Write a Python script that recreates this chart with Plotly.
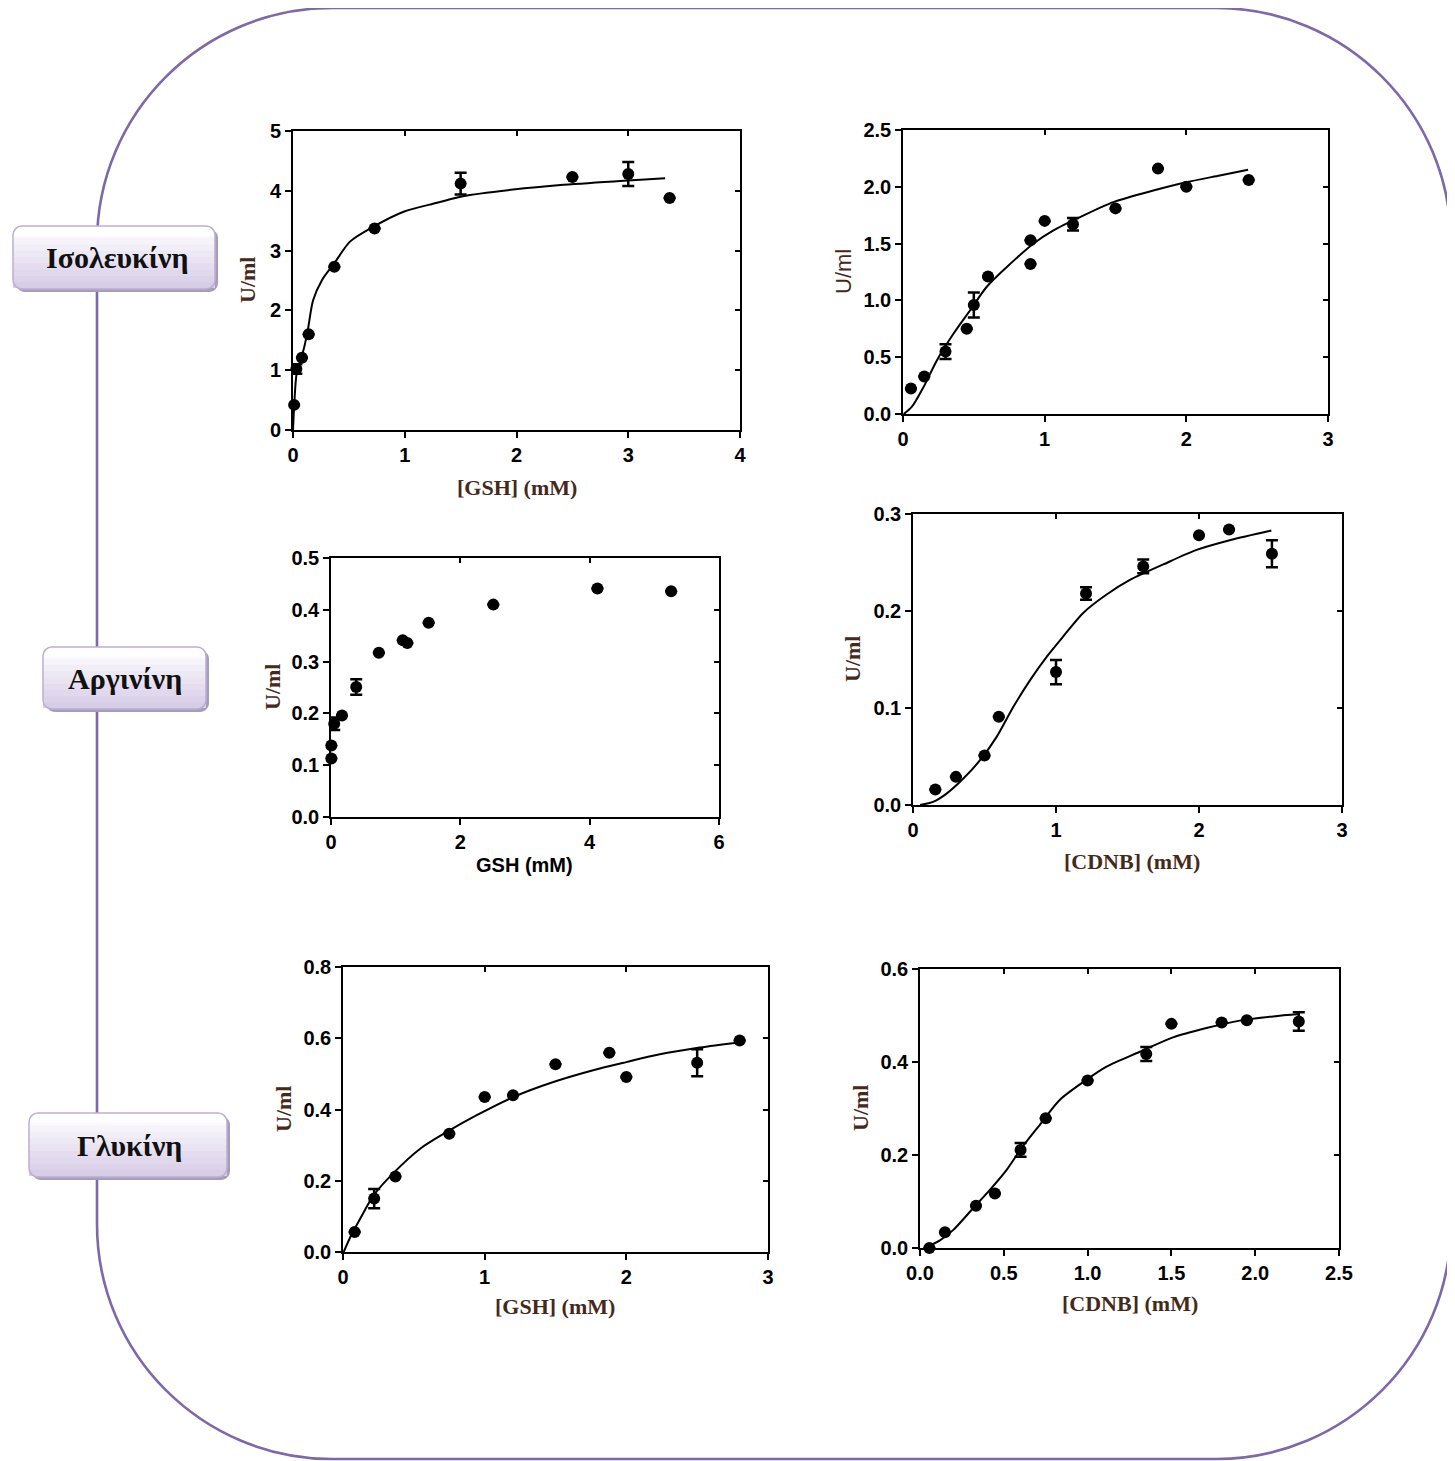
import plotly.graph_objects as go

W, H = 1455, 1461
OFF = 8  # page body margin of the html page

# ---------------- data ----------------
# Isoleucine, GSH
iso_gsh_x = [0.01, 0.03, 0.08, 0.14, 0.37, 0.73, 1.50, 2.50, 3.00, 3.37]
iso_gsh_y = [0.42, 1.02, 1.21, 1.60, 2.73, 3.37, 4.12, 4.23, 4.28, 3.88]
iso_gsh_err = [None, 0.08, None, None, None, None, 0.18, None, 0.20, None]
iso_gsh_fit_x = [0.0, 0.012, 0.033, 0.078, 0.128, 0.18, 0.26, 0.37, 0.51, 0.72, 0.99, 1.29, 1.52, 1.97, 2.42, 2.96, 3.33]
iso_gsh_fit_y = [0.0, 0.45, 0.95, 1.22, 1.62, 2.17, 2.51, 2.79, 3.15, 3.40, 3.65, 3.80, 3.91, 4.02, 4.10, 4.17, 4.21]

# Isoleucine, CDNB
iso_cdnb_x = [0.056, 0.15, 0.30, 0.45, 0.50, 0.60, 0.90, 0.90, 1.00, 1.20, 1.50, 1.80, 2.00, 2.44]
iso_cdnb_y = [0.225, 0.33, 0.55, 0.75, 0.96, 1.21, 1.53, 1.32, 1.70, 1.67, 1.81, 2.16, 2.00, 2.06]
iso_cdnb_err = [None, None, 0.065, None, 0.11, None, None, None, None, 0.055, None, None, None, None]
iso_cdnb_fit_x = [0.005, 0.063, 0.146, 0.24, 0.357, 0.474, 0.59, 0.733, 0.92, 1.062, 1.25, 1.485, 1.767, 2.0, 2.236, 2.436]
iso_cdnb_fit_y = [0.0, 0.064, 0.24, 0.474, 0.708, 0.913, 1.118, 1.294, 1.499, 1.616, 1.733, 1.865, 1.967, 2.04, 2.10, 2.15]

# Arginine, GSH
arg_gsh_x = [0.005, 0.005, 0.05, 0.17, 0.39, 0.74, 1.11, 1.18, 1.51, 2.51, 4.12, 5.26]
arg_gsh_y = [0.113, 0.138, 0.180, 0.196, 0.251, 0.317, 0.341, 0.336, 0.375, 0.410, 0.441, 0.436]
arg_gsh_err = [None, None, 0.012, None, 0.015, None, None, None, None, None, None, None]

# Arginine, CDNB
arg_cdnb_x = [0.156, 0.30, 0.50, 0.60, 1.00, 1.21, 1.61, 2.00, 2.21, 2.51]
arg_cdnb_y = [0.016, 0.029, 0.051, 0.091, 0.137, 0.218, 0.246, 0.278, 0.284, 0.259]
arg_cdnb_err = [None, None, None, None, 0.0125, 0.0065, 0.007, None, None, 0.014]
arg_cdnb_fit_x = [0.05, 0.144, 0.237, 0.354, 0.47, 0.586, 0.703, 0.82, 0.936, 1.052, 1.19, 1.354, 1.517, 1.75, 1.983, 2.215, 2.506]
arg_cdnb_fit_y = [0.0, 0.0034, 0.012, 0.0275, 0.0464, 0.0705, 0.1015, 0.129, 0.153, 0.174, 0.198, 0.217, 0.232, 0.248, 0.263, 0.273, 0.283]

# Glycine, GSH
gly_gsh_x = [0.082, 0.22, 0.37, 0.75, 1.00, 1.20, 1.50, 1.88, 2.00, 2.50, 2.80]
gly_gsh_y = [0.056, 0.150, 0.212, 0.332, 0.435, 0.440, 0.527, 0.559, 0.491, 0.531, 0.594]
gly_gsh_err = [None, 0.027, None, None, None, None, None, None, None, 0.038, None]
gly_gsh_fit_x = [0.005, 0.052, 0.122, 0.216, 0.357, 0.545, 0.733, 0.944, 1.203, 1.485, 1.766, 2.0, 2.236, 2.518, 2.80]
gly_gsh_fit_y = [0.0, 0.042, 0.094, 0.159, 0.222, 0.290, 0.337, 0.384, 0.435, 0.477, 0.510, 0.533, 0.555, 0.574, 0.589]

# Glycine, CDNB
gly_cdnb_x = [0.056, 0.149, 0.334, 0.447, 0.60, 0.75, 1.00, 1.35, 1.50, 1.80, 1.95, 2.26]
gly_cdnb_y = [0.0, 0.034, 0.091, 0.117, 0.211, 0.279, 0.360, 0.417, 0.482, 0.485, 0.490, 0.487]
gly_cdnb_err = [None, None, None, None, 0.015, None, None, 0.015, None, None, None, 0.02]
gly_cdnb_fit_x = [0.03, 0.119, 0.199, 0.318, 0.417, 0.517, 0.606, 0.715, 0.835, 0.994, 1.113, 1.312, 1.51, 1.709, 1.908, 2.107, 2.266]
gly_cdnb_fit_y = [0.0, 0.0165, 0.039, 0.086, 0.125, 0.168, 0.215, 0.265, 0.319, 0.362, 0.390, 0.422, 0.453, 0.473, 0.489, 0.498, 0.503]

amino_labels = ["Ισολευκίνη", "Αργινίνη", "Γλυκίνη"]
y_title = "U/ml"
x_titles = ["[GSH] (mM)", "", "GSH (mM)", "[CDNB] (mM)", "[GSH] (mM)", "[CDNB] (mM)"]

# ---------------- helpers ----------------
def PX(x):
    return (x - OFF) / W


def PY(y):
    return 1 - (y - OFF) / H


INK = "#000000"
TITLE_COL = "#45291a"
SANS = "Liberation Sans, Arial, sans-serif"
SERIF = "Liberation Serif, Times New Roman, serif"

panels = [
    dict(x=iso_gsh_x, y=iso_gsh_y, e=iso_gsh_err, fx=iso_gsh_fit_x, fy=iso_gsh_fit_y,
         box=(293, 740, 131, 430), xr=[0, 4], xd=1, yr=[0, 5], yd=1, xf="d", yf="d"),
    dict(x=iso_cdnb_x, y=iso_cdnb_y, e=iso_cdnb_err, fx=iso_cdnb_fit_x, fy=iso_cdnb_fit_y,
         box=(903, 1328, 130, 414), xr=[0, 3], xd=1, yr=[0, 2.5], yd=0.5, xf="d", yf=".1f"),
    dict(x=arg_gsh_x, y=arg_gsh_y, e=arg_gsh_err, fx=None, fy=None,
         box=(331, 719, 558, 817), xr=[0, 6], xd=2, yr=[0, 0.5], yd=0.1, xf="d", yf=".1f"),
    dict(x=arg_cdnb_x, y=arg_cdnb_y, e=arg_cdnb_err, fx=arg_cdnb_fit_x, fy=arg_cdnb_fit_y,
         box=(913, 1342, 514, 805), xr=[0, 3], xd=1, yr=[0, 0.3], yd=0.1, xf="d", yf=".1f"),
    dict(x=gly_gsh_x, y=gly_gsh_y, e=gly_gsh_err, fx=gly_gsh_fit_x, fy=gly_gsh_fit_y,
         box=(343, 768, 967, 1252), xr=[0, 3], xd=1, yr=[0, 0.8], yd=0.2, xf="d", yf=".1f"),
    dict(x=gly_cdnb_x, y=gly_cdnb_y, e=gly_cdnb_err, fx=gly_cdnb_fit_x, fy=gly_cdnb_fit_y,
         box=(920, 1339, 969, 1248), xr=[0, 2.5], xd=0.5, yr=[0, 0.6], yd=0.2, xf=".1f", yf=".1f"),
]

fig = go.Figure()
layout = {}
annotations = []
shapes = []

for i, p in enumerate(panels):
    n = i + 1
    m = i + 7
    xa, ya = f"x{n}", f"y{n}"
    xo, yo = f"x{m}", f"y{m}"
    l, r, t, b = p["box"]
    xdom = [PX(l), PX(r)]
    ydom = [PY(b), PY(t)]
    tickfont = dict(family=SANS, size=20, color=INK, weight="bold")
    common = dict(showgrid=False, zeroline=False, automargin=False, fixedrange=True, tick0=0)
    layout[f"xaxis{n}"] = dict(domain=xdom, anchor=ya, range=p["xr"], dtick=p["xd"],
                               tickformat=p["xf"], showline=True, linecolor=INK, linewidth=1.6, mirror=True,
                               ticks="outside", ticklen=6, tickwidth=1.6, tickcolor=INK,
                               tickfont=tickfont, **common)
    layout[f"yaxis{n}"] = dict(domain=ydom, anchor=xa, range=p["yr"], dtick=p["yd"],
                               tickformat=p["yf"], showline=True, linecolor=INK, linewidth=1.6, mirror=True,
                               ticks="outside", ticklen=6, tickwidth=1.6, tickcolor=INK,
                               tickfont=tickfont, **common)
    # mirrored inside ticks on top / right
    layout[f"xaxis{m}"] = dict(overlaying=xa, side="top", anchor=yo, range=p["xr"], dtick=p["xd"],
                               showline=False, ticks="inside", ticklen=5, tickwidth=1.6, tickcolor=INK,
                               showticklabels=False, **common)
    layout[f"yaxis{m}"] = dict(overlaying=ya, side="right", anchor=xo, range=p["yr"], dtick=p["yd"],
                               showline=False, ticks="inside", ticklen=5, tickwidth=1.6, tickcolor=INK,
                               showticklabels=False, **common)
    fig.add_trace(go.Scatter(x=[], y=[], xaxis=xo, yaxis=yo, showlegend=False, hoverinfo="skip"))

    if p["fx"] is not None:
        fig.add_trace(go.Scatter(x=p["fx"], y=p["fy"], mode="lines", xaxis=xa, yaxis=ya,
                                 line=dict(color=INK, width=2, shape="spline", smoothing=0.8),
                                 showlegend=False, hoverinfo="skip", cliponaxis=False))
    fig.add_trace(go.Scatter(x=p["x"], y=p["y"], mode="markers", xaxis=xa, yaxis=ya,
                             marker=dict(color=INK, size=12),
                             error_y=dict(type="data", array=p["e"], visible=True,
                                          color=INK, thickness=2.5, width=6),
                             showlegend=False, cliponaxis=False))

# ---------------- axis titles (annotations) ----------------
ylab_pos = [(248, 280, SERIF, "bold"), (843, 271, SANS, "normal"), (272, 687, SERIF, "bold"),
            (852, 659, SERIF, "bold"), (283, 1109, SERIF, "bold"), (860, 1108, SERIF, "bold")]
for (cx, cy, fam, wt) in ylab_pos:
    annotations.append(dict(xref="paper", yref="paper", x=PX(cx), y=PY(cy), text=y_title,
                            showarrow=False, textangle=-90, xanchor="center", yanchor="middle",
                            font=dict(family=fam, size=22, color=TITLE_COL, weight=wt)))

xlab_pos = [(517, 487, SERIF), None, (524, 865, SANS), (1132, 861, SERIF), (555, 1306, SERIF), (1130, 1303, SERIF)]
for txt, pos in zip(x_titles, xlab_pos):
    if pos is None or not txt:
        continue
    cx, cy, fam = pos
    annotations.append(dict(xref="paper", yref="paper", x=PX(cx), y=PY(cy), text=txt,
                            showarrow=False, xanchor="center", yanchor="middle",
                            font=dict(family=fam, size=22 if fam == SERIF else 20,
                                      color=TITLE_COL if fam == SERIF else INK, weight="bold")))

# ---------------- outer rounded frame ----------------
LINE = "#7d68a8"
k = 0.5523


def rounded_path(l, t, r, b, rad):
    c = rad * (1 - k)
    pts = [
        ("M", [(l, t + rad)]),
        ("C", [(l, t + c), (l + c, t), (l + rad, t)]),
        ("L", [(r - rad, t)]),
        ("C", [(r - c, t), (r, t + c), (r, t + rad)]),
        ("L", [(r, b - rad)]),
        ("C", [(r, b - c), (r - c, b), (r - rad, b)]),
        ("L", [(l + rad, b)]),
        ("C", [(l + c, b), (l, b - c), (l, b - rad)]),
    ]
    s = ""
    for cmd, ps in pts:
        s += cmd + " " + " ".join(f"{PX(x):.5f},{PY(y):.5f}" for x, y in ps) + " "
    return s + "Z"


def top_rounded_path(l, t, r, b, rad):
    c = rad * (1 - k)
    pts = [
        ("M", [(l, b)]),
        ("L", [(l, t + rad)]),
        ("C", [(l, t + c), (l + c, t), (l + rad, t)]),
        ("L", [(r - rad, t)]),
        ("C", [(r - c, t), (r, t + c), (r, t + rad)]),
        ("L", [(r, b)]),
    ]
    s = ""
    for cmd, ps in pts:
        s += cmd + " " + " ".join(f"{PX(x):.5f},{PY(y):.5f}" for x, y in ps) + " "
    return s + "Z"


shapes.append(dict(type="path", xref="paper", yref="paper", path=rounded_path(97, 8, 1451, 1459, 235),
                   line=dict(color=LINE, width=2.6), fillcolor="rgba(0,0,0,0)", layer="below"))

# ---------------- amino-acid label boxes ----------------
boxes = [(13, 226, 215, 289, 118, 257), (43, 647, 206, 709, 125, 679), (29, 1113, 227, 1177, 130, 1145)]


def mix(c1, c2, f):
    return "#" + "".join(f"{int(round(a + (b - a) * f)):02x}" for a, b in zip(c1, c2))


top_c = (255, 255, 255)
bot_c = (211, 199, 228)
for (l, t, r, b, tx, ty), lab in zip(boxes, amino_labels):
    shapes.append(dict(type="path", xref="paper", yref="paper", path=rounded_path(l + 3, t + 3, r + 3, b + 3, 9),
                       line=dict(width=0), fillcolor="#a79db8", layer="above"))
    shapes.append(dict(type="path", xref="paper", yref="paper", path=rounded_path(l, t, r, b, 9),
                       line=dict(width=0), fillcolor=mix(top_c, bot_c, 1.0), layer="above"))
    nb = 10
    for j in range(nb):
        f = 1 - (j + 1) / nb
        bb = t + (b - t) * (1 - j / nb)
        if bb - t < 10:
            bb = t + 10
        shapes.append(dict(type="path", xref="paper", yref="paper",
                           path=top_rounded_path(l, t, r, bb - 0.5 if j else bb - 1, 9),
                           line=dict(width=0), fillcolor=mix(top_c, bot_c, f), layer="above"))
    shapes.append(dict(type="path", xref="paper", yref="paper", path=rounded_path(l, t, r, b, 9),
                       line=dict(color="#bcaed6", width=1.5), fillcolor="rgba(0,0,0,0)", layer="above"))
    annotations.append(dict(xref="paper", yref="paper", x=PX(tx), y=PY(ty), text=lab, showarrow=False,
                            xanchor="center", yanchor="middle",
                            font=dict(family=SERIF, size=30, color="#111111", weight="bold")))

fig.update_layout(width=W, height=H, margin=dict(l=0, r=0, t=0, b=0, pad=0, autoexpand=False),
                  paper_bgcolor="white", plot_bgcolor="rgba(0,0,0,0)",
                  showlegend=False, annotations=annotations, shapes=shapes, **layout)

fig.write_html("out.html")
